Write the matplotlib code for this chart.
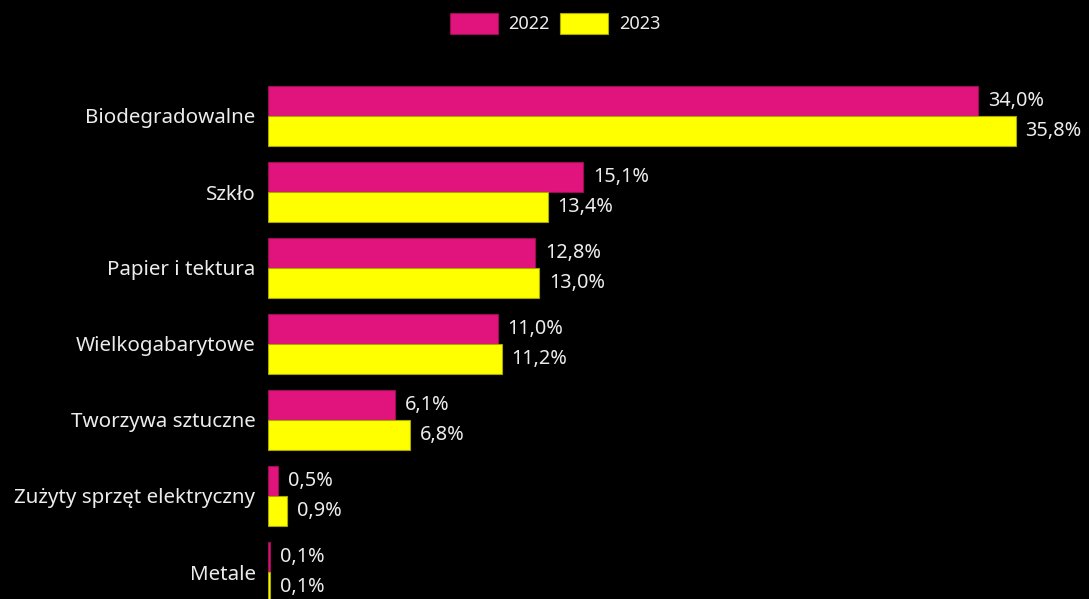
import matplotlib.pyplot as plt
import numpy as np

categories = ['Biodegradowalne', 'Szkło', 'Papier i tektura', 'Wielkogabarytowe',
              'Tworzywa sztuczne', 'Zużyty sprzęt elektryczny', 'Metale']
values_2022 = [34.0, 15.1, 12.8, 11.0, 6.1, 0.5, 0.1]
values_2023 = [35.8, 13.4, 13.0, 11.2, 6.8, 0.9, 0.1]
series_names = ['2022', '2023']

pink = '#e0147c'
yellow = '#ffff00'
text_col = '#ececec'

plt.rcParams['font.family'] = ['Noto Sans', 'DejaVu Sans']

fig = plt.figure(figsize=(10.89, 5.99), dpi=100, facecolor='black')
ax = fig.add_axes([268 / 1089, 0, 1 - 268 / 1089, 1])
ax.set_facecolor('black')

y = np.arange(len(categories))
h = 0.395
b1 = ax.barh(y - h / 2, values_2022, height=h, color=pink, edgecolor='#9a0d55',
             linewidth=0.8, label=series_names[0])
b2 = ax.barh(y + h / 2, values_2023, height=h, color=yellow, edgecolor='#a8a800',
             linewidth=0.8, label=series_names[1])

for bars, vals in ((b1, values_2022), (b2, values_2023)):
    for bar, v in zip(bars, vals):
        ax.annotate(f'{v:.1f}%'.replace('.', ','),
                    (bar.get_width(), bar.get_y() + bar.get_height() / 2),
                    xytext=(7, 0), textcoords='offset points', va='center', ha='left',
                    color=text_col, fontsize=14.3)

ax.set_xlim(0, 821 / 20.88)
ax.set_ylim(6 + 27 / 76, -116 / 76)
ax.set_yticks(y)
ax.set_yticklabels(categories, color=text_col, fontsize=14.8)
ax.tick_params(axis='y', length=0, pad=9)
ax.set_xticks([])
for s in ax.spines.values():
    s.set_visible(False)

fig.legend(handles=[b1, b2], labels=series_names, loc='upper center',
           bbox_to_anchor=(555 / 1089, 1.006), ncol=2, frameon=False,
           handlelength=2.65, handleheight=1.45, handletextpad=0.6, columnspacing=0.55,
           fontsize=13, labelcolor=text_col)

fig.savefig('out.png', dpi=100, facecolor='black')
